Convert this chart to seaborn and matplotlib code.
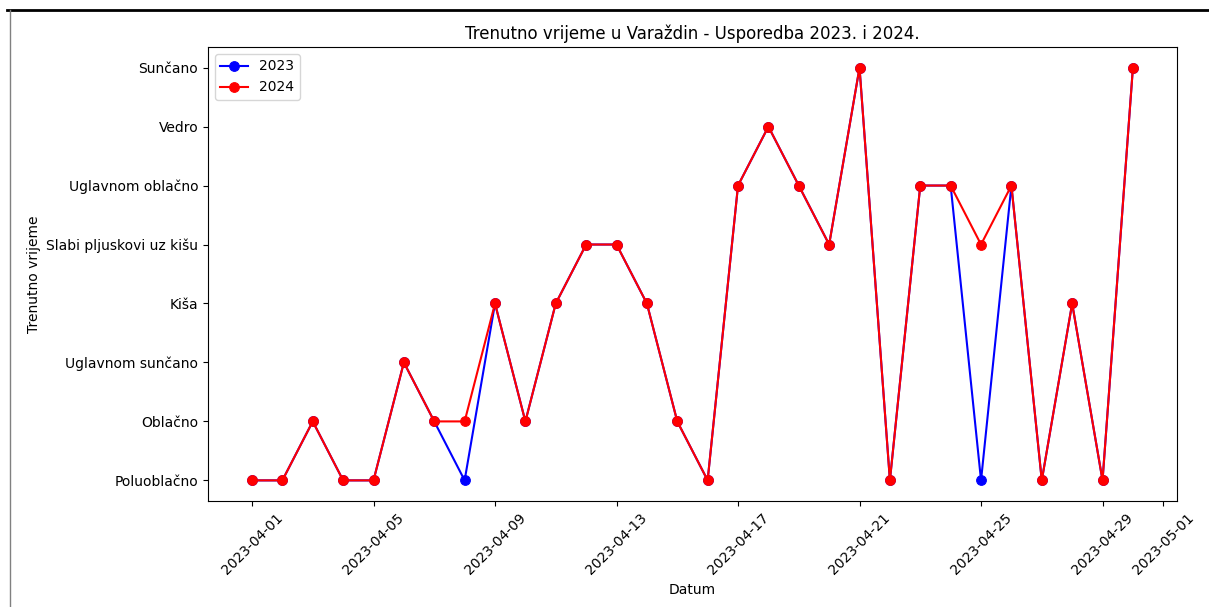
import matplotlib.pyplot as plt
import seaborn as sns
import pandas as pd
from matplotlib.lines import Line2D

# Weather categories, in order of first appearance (bottom to top on the axis)
categories = ["Poluoblačno", "Oblačno", "Uglavnom sunčano", "Kiša",
              "Slabi pljuskovi uz kišu", "Uglavnom oblačno", "Vedro", "Sunčano"]

dates = pd.date_range("2023-04-01", "2023-04-30", freq="D")

weather_2023 = ["Poluoblačno", "Poluoblačno", "Oblačno", "Poluoblačno", "Poluoblačno",
                "Uglavnom sunčano", "Oblačno", "Poluoblačno", "Kiša", "Oblačno",
                "Kiša", "Slabi pljuskovi uz kišu", "Slabi pljuskovi uz kišu", "Kiša", "Oblačno",
                "Poluoblačno", "Uglavnom oblačno", "Vedro", "Uglavnom oblačno", "Slabi pljuskovi uz kišu",
                "Sunčano", "Poluoblačno", "Uglavnom oblačno", "Uglavnom oblačno", "Poluoblačno",
                "Uglavnom oblačno", "Poluoblačno", "Kiša", "Poluoblačno", "Sunčano"]

weather_2024 = ["Poluoblačno", "Poluoblačno", "Oblačno", "Poluoblačno", "Poluoblačno",
                "Uglavnom sunčano", "Oblačno", "Oblačno", "Kiša", "Oblačno",
                "Kiša", "Slabi pljuskovi uz kišu", "Slabi pljuskovi uz kišu", "Kiša", "Oblačno",
                "Poluoblačno", "Uglavnom oblačno", "Vedro", "Uglavnom oblačno", "Slabi pljuskovi uz kišu",
                "Sunčano", "Poluoblačno", "Uglavnom oblačno", "Uglavnom oblačno", "Slabi pljuskovi uz kišu",
                "Uglavnom oblačno", "Poluoblačno", "Kiša", "Poluoblačno", "Sunčano"]

code = {c: i for i, c in enumerate(categories)}
df = pd.DataFrame({
    "Datum": dates,
    "y2023": [code[w] for w in weather_2023],
    "y2024": [code[w] for w in weather_2024],
})

fig = plt.figure(figsize=(12.09, 6.07), dpi=100)
ax = fig.add_axes([0.172, 0.1746, 0.8015, 0.748])

sns.lineplot(data=df, x="Datum", y="y2023", marker="o", color="blue", label="2023",
             markeredgecolor="blue", markersize=7, linewidth=1.5, ax=ax, sort=False)
sns.lineplot(data=df, x="Datum", y="y2024", marker="o", color="red", label="2024",
             markeredgecolor="red", markersize=7, linewidth=1.5, ax=ax, sort=False)

ax.set_yticks(range(len(categories)))
ax.set_yticklabels(categories)
ax.set_ylim(-0.35, len(categories) - 1 + 0.35)

ax.set_xticks(pd.date_range("2023-04-01", "2023-05-01", freq="4D").append(pd.DatetimeIndex(["2023-05-01"])))
ax.xaxis.set_major_formatter(plt.matplotlib.dates.DateFormatter("%Y-%m-%d"))
plt.setp(ax.get_xticklabels(), rotation=45)

ax.set_title("Trenutno vrijeme u Varaždin - Usporedba 2023. i 2024.")
ax.set_xlabel("Datum")
ax.set_ylabel("Trenutno vrijeme")
ax.legend(loc="upper left")

# screenshot frame lines
fig.add_artist(Line2D([0.006, 1.0], [0.9835, 0.9835], color="black", linewidth=2,
                      transform=fig.transFigure))
fig.add_artist(Line2D([0.0085, 0.0085], [0.0, 0.9835], color="gray", linewidth=1,
                      transform=fig.transFigure))

fig.savefig("out.png", dpi=100)
